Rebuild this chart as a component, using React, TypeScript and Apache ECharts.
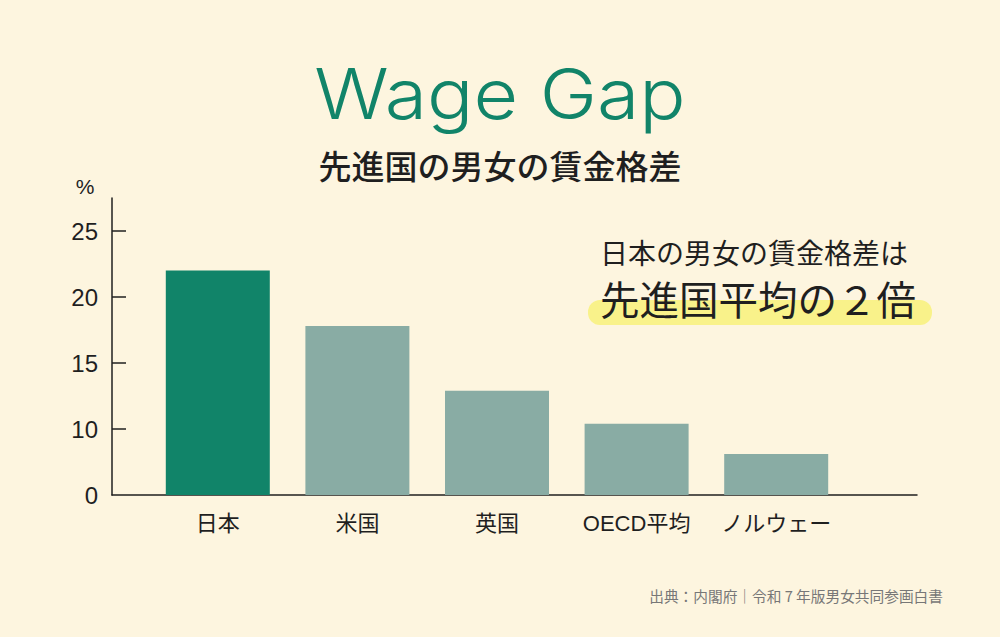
import { useEffect, useRef } from 'react';
import * as echarts from 'echarts';

// ─── Data ─────────────────────────────────────────────────────────────────────

const countries = ['日本', '米国', '英国', 'OECD平均', 'ノルウェー'];
// values read against the (broken) axis, whose bottom tick "0" stands at 5
const wageGap = [22.0, 17.8, 12.9, 10.4, 8.1];
const highlighted = [true, false, false, false, false];
const tickValues = [5, 10, 15, 20, 25];
const tickLabels = ['0', '10', '15', '20', '25'];

const BG = '#fdf5df';
const GREEN = '#118469';
const TEAL = '#89aca4';
const INK = '#1f1f1f';
const LATIN_CJK = "'Liberation Sans', 'Noto Sans CJK JP', sans-serif";
const CJK = "'Noto Sans CJK JP', sans-serif";

// ─── Option ───────────────────────────────────────────────────────────────────

function buildOption(): echarts.EChartsOption {
  const gridTop = 198;
  const gridHeight = 297;

  return {
    animation: false,
    backgroundColor: BG,
    grid: [
      { left: 112, top: gridTop, width: 805, height: gridHeight },
      { left: 148, top: gridTop, width: 698, height: gridHeight },
    ],
    xAxis: [
      {
        gridIndex: 0,
        type: 'value',
        min: 0,
        max: 1,
        axisLine: { show: true, lineStyle: { color: INK, width: 1.5 } },
        axisTick: { show: false },
        axisLabel: { show: false },
        splitLine: { show: false },
      },
      {
        gridIndex: 1,
        type: 'category',
        data: countries,
        axisLine: { show: false },
        axisTick: { show: false },
        axisLabel: {
          interval: 0,
          color: INK,
          fontSize: 22,
          fontFamily: LATIN_CJK,
          margin: 17,
        },
      },
    ],
    yAxis: [
      {
        gridIndex: 0,
        type: 'value',
        min: 5,
        max: 27.5,
        interval: 5,
        axisLine: { show: true, lineStyle: { color: INK, width: 1.5 } },
        axisTick: {
          show: true,
          inside: true,
          length: 14,
          lineStyle: { color: INK, width: 1.5 },
          customValues: [10, 15, 20, 25],
        },
        axisLabel: {
          color: INK,
          fontSize: 24,
          fontFamily: LATIN_CJK,
          margin: 14,
          customValues: tickValues,
          formatter: (v: number) => tickLabels[tickValues.indexOf(v)] ?? '',
        },
        splitLine: { show: false },
      },
      {
        gridIndex: 1,
        type: 'value',
        min: 5,
        max: 27.5,
        show: false,
      },
    ],
    series: [
      {
        type: 'bar',
        xAxisIndex: 1,
        yAxisIndex: 1,
        barWidth: 104,
        data: wageGap.map((v, i) => ({
          value: v,
          itemStyle: { color: highlighted[i] ? GREEN : TEAL },
        })),
      },
    ],
    graphic: [
      {
        type: 'text',
        x: 85,
        y: 186,
        style: {
          text: '%',
          fontSize: 21,
          fontFamily: LATIN_CJK,
          fill: INK,
          textAlign: 'center',
          textVerticalAlign: 'middle',
        },
      },
      {
        type: 'text',
        x: 500,
        y: 94,
        scaleX: 1.1,
        style: {
          text: 'Wage Gap',
          fontSize: 70,
          fontWeight: 300,
          fontFamily: "'Inter', 'DejaVu Sans', sans-serif",
          fill: GREEN,
          textAlign: 'center',
          textVerticalAlign: 'middle',
        },
      },
      {
        type: 'text',
        x: 500,
        y: 165,
        style: {
          text: '先進国の男女の賃金格差',
          fontSize: 33,
          fontWeight: 500,
          fontFamily: CJK,
          fill: INK,
          textAlign: 'center',
          textVerticalAlign: 'middle',
        },
      },
      {
        type: 'rect',
        shape: { x: 588, y: 300, width: 344, height: 25, r: 12 },
        style: { fill: '#f9f28a' },
      },
      {
        type: 'text',
        x: 600,
        y: 252,
        style: {
          text: '日本の男女の賃金格差は',
          fontSize: 28,
          fontFamily: CJK,
          fill: INK,
          textAlign: 'left',
          textVerticalAlign: 'middle',
        },
      },
      {
        type: 'text',
        x: 600,
        y: 297,
        style: {
          text: '先進国平均の２倍',
          fontSize: 39.5,
          fontFamily: CJK,
          fill: INK,
          textAlign: 'left',
          textVerticalAlign: 'middle',
        },
      },
      {
        type: 'text',
        x: 943,
        y: 595,
        style: {
          text: '出典：内閣府｜令和 7 年版男女共同参画白書',
          fontSize: 14.7,
          fontFamily: CJK,
          fill: '#777777',
          textAlign: 'right',
          textVerticalAlign: 'middle',
        },
      },
    ],
  };
}

// ─── Chart ────────────────────────────────────────────────────────────────────

export default function App() {
  const containerRef = useRef<HTMLDivElement>(null);

  useEffect(() => {
    document.body.style.margin = '0';
    if (!containerRef.current) return;
    const chart = echarts.init(containerRef.current, null, { renderer: 'svg' });
    chart.setOption(buildOption());
    return () => chart.dispose();
  }, []);

  return <div ref={containerRef} style={{ width: 1000, height: 637 }} />;
}
